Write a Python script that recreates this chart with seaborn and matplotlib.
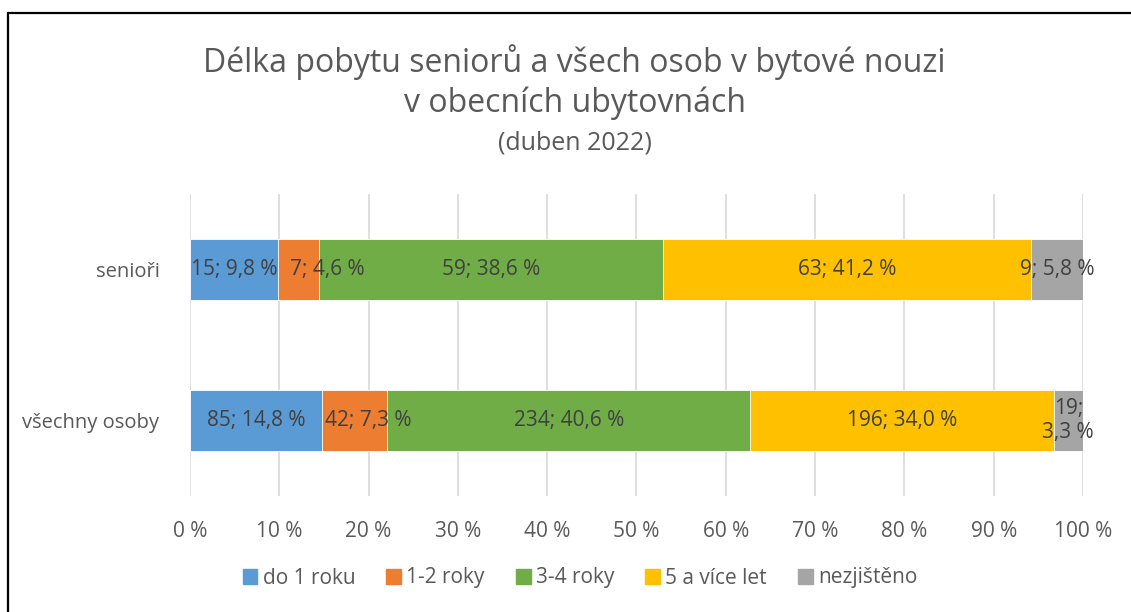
import pandas as pd
import matplotlib.pyplot as plt
import matplotlib.lines as mlines
import matplotlib.patches as mpatches
import seaborn as sns

# Data
groups = ["senioři", "všechny osoby"]
categories = ["do 1 roku", "1-2 roky", "3-4 roky", "5 a více let", "nezjištěno"]
counts_seniors = [15, 7, 59, 63, 9]
counts_all = [85, 42, 234, 196, 19]
pct_seniors = [9.8, 4.6, 38.6, 41.2, 5.8]
pct_all = [14.8, 7.3, 40.6, 34.0, 3.3]

colors = ["#5B9BD5", "#ED7D31", "#70AD47", "#FFC000", "#A5A5A5"]

# Excel shifted a few labels sideways to avoid overlaps (in % units)
label_nudge = {(0, 1): 3.3, (1, 1): 1.5}
# labels that were wrapped onto two lines
label_wrap = {(1, 4)}

sns.set_theme(style="white")
plt.rcParams["font.family"] = ["Open Sans", "DejaVu Sans"]

text_grey = "#595959"
label_grey = "#404040"

# long table with cumulative sums for layered stacked bars
rows = []
for gi, (g, cnts, pcts) in enumerate(zip(groups, [counts_seniors, counts_all],
                                         [pct_seniors, pct_all])):
    cum = 0.0
    for ci, (cat, c, p) in enumerate(zip(categories, cnts, pcts)):
        rows.append(dict(group=g, cat=cat, count=c, pct=p,
                         left=cum, cum=cum + p, gi=gi, ci=ci))
        cum += p
df = pd.DataFrame(rows)

fig = plt.figure(figsize=(11.31, 6.12), dpi=100)
ax = fig.add_axes([190 / 1131, 1 - 496 / 612, 893 / 1131, 302 / 612])

# draw from the last category to the first so each bar covers the next
for ci in reversed(range(len(categories))):
    sub = df[df["ci"] == ci]
    sns.barplot(data=sub, x="cum", y="group", order=groups, orient="h",
                color=colors[ci], width=0.4, ax=ax, saturation=1,
                edgecolor="white", linewidth=0.6)

# data labels
for _, r in df.iterrows():
    x = r["left"] + r["pct"] / 2 + label_nudge.get((r["gi"], r["ci"]), 0)
    pct_txt = f"{r['pct']:.1f}".replace(".", ",")
    sep = "\n" if (r["gi"], r["ci"]) in label_wrap else " "
    txt = f"{r['count']};{sep}{pct_txt} %"
    ax.text(x, r["gi"], txt, ha="center", va="center",
            fontsize=15, color=label_grey, linespacing=1.2)

ax.set_xlim(0, 100)
ax.set_ylim(1.5, -0.5)
ax.set_xticks(range(0, 101, 10))
ax.set_xticklabels([f"{v} %" for v in range(0, 101, 10)])
ax.xaxis.grid(True, color="#D9D9D9", linewidth=1.2)
ax.set_axisbelow(True)
for s in ax.spines.values():
    s.set_visible(False)
ax.tick_params(axis="x", length=0, pad=18, labelsize=15, labelcolor=text_grey)
ax.tick_params(axis="y", length=0, pad=22, labelsize=14.5, labelcolor=text_grey)
ax.set_xlabel("")
ax.set_ylabel("")

# titles
fig.text(0.508, 1 - 62 / 612, "Délka pobytu seniorů a všech osob v bytové nouzi",
         ha="center", va="center", fontsize=23, color=text_grey)
fig.text(0.508, 1 - 103 / 612, "v obecních ubytovnách",
         ha="center", va="center", fontsize=23, color=text_grey)
fig.text(0.508, 1 - 143 / 612, "(duben 2022)",
         ha="center", va="center", fontsize=18, color=text_grey)

# legend
handles = [mpatches.Patch(color=c, label=l) for c, l in zip(colors, categories)]
leg = fig.legend(handles=handles, loc="center", ncol=5,
                 bbox_to_anchor=(580 / 1131, 1 - 578 / 612), frameon=False,
                 fontsize=15, handlelength=0.7, handleheight=0.7,
                 handletextpad=0.25, columnspacing=1.5)
for t in leg.get_texts():
    t.set_color(text_grey)

# chart border (left and top edges visible in the reference)
fig.add_artist(mlines.Line2D([8 / 1131, 8 / 1131], [0, 1 - 13 / 612],
                             color="black", linewidth=1.6))
fig.add_artist(mlines.Line2D([8 / 1131, 1], [1 - 13 / 612, 1 - 13 / 612],
                             color="black", linewidth=1.6))

fig.savefig("out.png", dpi=100)
plt.close(fig)
